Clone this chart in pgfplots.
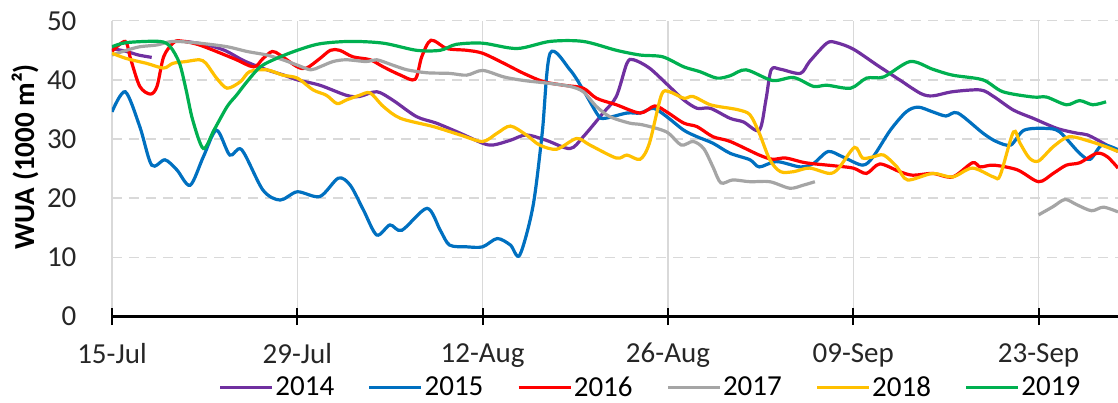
\documentclass[border=0pt]{standalone}
\usepackage{fontspec}
\setmainfont{Carlito}
\usepackage{pgfplots}
\pgfplotsset{compat=1.18}
\definecolor{cA}{HTML}{7030A0}
\definecolor{cB}{HTML}{0070C0}
\definecolor{cC}{HTML}{FF0000}
\definecolor{cD}{HTML}{A5A5A5}
\definecolor{cE}{HTML}{FFC000}
\definecolor{cF}{HTML}{00B050}
\definecolor{gridc}{HTML}{D9D9D9}
\begin{document}
\begin{tikzpicture}
\begin{axis}[name=ax,
  width=503pt, height=148pt, scale only axis,
  xmin=0, xmax=76, ymin=0, ymax=50,
  axis x line*=bottom, axis y line*=left,
  y axis line style={draw=none},
  x axis line style={line width=1.2pt, black},
  xtick={0,14,28,42,56,70},
  xticklabels={15-Jul,29-Jul,12-Aug,26-Aug,09-Sep,23-Sep},
  ytick={0,10,20,30,40,50},
  ytick style={draw=none},
  xtick style={black, line width=1pt},
  major tick length=8.5pt, tick align=center,
  xmajorgrids, ymajorgrids,
  x grid style={gridc, line width=0.6pt},
  y grid style={gridc, line width=0.8pt, dash pattern=on 5pt off 3.5pt},
  tick label style={font=\fontsize{14.5}{17}\selectfont, text=black!85},
  xticklabel style={yshift=-5.5pt},
  yticklabel style={xshift=-10pt},
  /pgf/number format/assume math mode=true,
  ylabel={WUA (1000 m²)},
  ylabel style={at={(axis description cs:-0.0865,0.54)}, anchor=center, font=\fontsize{14.5}{17}\selectfont\bfseries},
  legend columns=6,
  legend style={at={(0.535,-0.240)}, anchor=center, draw=none, fill=none,
    font=\fontsize{14.5}{17}\selectfont,
    nodes={inner sep=0.8pt},
    /tikz/every even column/.append style={column sep=16pt}},
  legend image code/.code={\draw (0pt,0pt) -- (26pt,0pt);},
  every axis plot/.append style={line width=1.6pt, smooth, tension=0.5},
]
% 2014
\addplot[cA, forget plot] coordinates {(0,45.3) (1.1,44.8) (2,44.2) (3.0,43.8)};
\addplot[cA] coordinates {(5.5,46.5) (7,46) (8.5,45) (10,43.2) (11.7,41.7) (13,40.8) (14,40.0) (15.7,39.1) (17.7,37.4) (18.7,37.2) (20.0,38.0) (21.2,36.6) (23.0,33.8) (24.5,32.7) (26.3,31.0) (28.0,29.3) (28.8,29.0) (30.1,29.8) (31.3,30.7) (32.8,29.8) (34.6,28.4) (35.6,30.4) (37.1,34.4) (38.1,37.2) (38.9,42.8) (39.4,43.4) (40.6,42.0) (42.1,38.9) (43.2,36.6) (44.2,35.2) (45.2,35.2) (46.7,33.5) (47.7,32.9) (48.9,31.5) (49.4,36.6) (49.8,41.7) (50.5,41.8) (52.0,41.1) (52.7,43.1) (54.0,46.2) (54.7,46.3) (56.0,45.2) (57.8,42.5) (59.5,40.0) (61.1,37.7) (62.0,37.3) (63.5,38.0) (65.6,38.3) (66.6,37.2) (68.1,34.9) (69.6,33.5) (71.4,31.8) (72.9,31.0) (73.7,30.7) (74.9,29.3) (76,27.9)};
\addlegendentry{2014}
% 2015
\addplot[cB] coordinates {(0,34.6) (1.0,38.0) (2.1,32.1) (3.0,25.6) (4.0,26.5) (4.9,24.8) (5.9,22.2) (6.9,27.0) (7.9,31.5) (8.9,27.3) (9.8,28.2) (11.4,21.4) (12.7,19.7) (14,21.1) (15.7,20.3) (17.1,23.4) (18.0,22.2) (19,18) (20.0,13.8) (21.0,15.5) (21.9,14.6) (23.8,18.3) (24.8,14.6) (25.5,12.1) (26.8,11.8) (28.0,11.8) (29.1,13.2) (30.1,12.1) (30.8,10.4) (31.8,18.6) (32.5,31.0) (33.1,44.5) (34.6,41.7) (35.6,38.3) (36.7,34.1) (37.2,33.5) (38.9,34.4) (39.9,34.4) (40.9,35.2) (41.9,33.8) (43.2,31.5) (44.2,30.4) (45.4,29.3) (46.7,27.6) (48.2,26.5) (48.9,25.3) (50.2,26.2) (52.0,25.3) (53.0,25.9) (54.1,27.9) (55.2,27.0) (56.7,25.6) (57.5,27.0) (58.8,31.5) (60.0,34.6) (60.9,35.4) (62.0,34.6) (63.0,33.9) (63.9,34.4) (65.8,31.0) (66.8,29.6) (67.9,29.0) (68.9,31.5) (70.6,31.8) (71.6,31.2) (73.1,27.6) (73.9,26.6) (74.8,29.0) (76,28.2)};
\addlegendentry{2015}
% 2016
\addplot[cC] coordinates {(0,44.8) (1.0,46.5) (1.4,43.6) (2.1,38.9) (2.9,37.6) (3.4,38.9) (3.9,43.9) (4.6,46.2) (5.1,46.6) (6.6,45.9) (9.2,43.6) (10.7,42.2) (11.4,43.6) (12.1,44.8) (12.7,44.2) (14,42.2) (14.7,42.0) (15.7,43.6) (16.5,45.0) (17.2,45.0) (18.2,43.9) (19.5,43.4) (20.5,42.2) (21.8,40.8) (22.9,40.1) (23.4,43.9) (24.1,46.7) (25.3,45.3) (26.8,45.0) (28.0,44.5) (29.6,42.8) (31.1,41.1) (32.6,39.7) (34.1,39.1) (35.6,38.6) (36.6,36.9) (38.1,35.8) (39.9,34.4) (41.0,35.6) (41.9,34.6) (43.2,32.7) (44.2,32.1) (45.4,30.4) (46.7,29.6) (48.9,27.3) (49.9,26.6) (50.9,26.8) (52.4,26.0) (54.5,25.5) (56.0,25.1) (57.0,24.2) (58.0,25.8) (59.5,24.5) (60.5,23.9) (62.0,24.2) (63.5,23.6) (65.0,26.0) (65.6,25.3) (66.6,25.6) (68.4,24.8) (70.0,22.8) (71.1,24.2) (72.1,25.6) (73.1,26.0) (74.4,27.6) (75.2,27.0) (76,25.1)};
\addlegendentry{2016}
% 2017
\addplot[cD] coordinates {(0,44.2) (1.1,45.0) (2.1,45.6) (3.4,45.9) (4.6,46.5) (6.6,46.2) (8.7,45.6) (10.2,44.8) (11.7,44.2) (12.9,43.4) (14,42.5) (15.0,41.7) (15.7,42.2) (16.7,43.1) (17.7,43.4) (19.2,43.1) (20,43.4) (21.2,42.5) (22.3,41.7) (23.8,41.2) (25.5,41.1) (26.8,40.8) (28.0,41.6) (29.6,40.5) (31.1,39.9) (33.1,39.4) (34.6,38.9) (35.6,38.0) (36.6,35.5) (37.6,33.8) (39.1,32.7) (40.1,32.4) (41.9,31.2) (43.0,29.0) (43.9,29.6) (44.7,28.4) (45.4,25.3) (46.0,22.6) (46.9,23.1) (48.2,22.8) (49.7,22.8) (51.2,21.7) (52.2,22.2) (53.1,22.8)};
\addlegendentry{2017}
\addplot[cD, forget plot] coordinates {(70.0,17.2) (71.1,18.6) (72.0,19.8) (72.9,18.9) (74.0,17.9) (74.9,18.5) (76,17.7)};
% 2018
\addplot[cE] coordinates {(0,44.5) (1.1,43.6) (2.6,42.8) (3.9,42.0) (4.6,42.8) (5.6,43.1) (6.6,43.4) (7.1,42.8) (7.9,40.3) (8.7,38.6) (9.7,39.7) (10.4,41.4) (11.7,41.7) (12.9,40.8) (14.0,40.3) (15.2,38.3) (16.2,37.4) (17.0,36.0) (17.7,36.6) (18.7,37.4) (19.5,37.8) (20.5,35.5) (21.8,33.5) (24.3,32.1) (26.3,30.7) (28.0,29.6) (29.1,31.0) (30.1,32.2) (31.3,30.7) (32.3,29.0) (33.6,28.3) (35.1,30.1) (36.1,29.0) (38.1,26.8) (38.9,27.3) (39.9,26.6) (40.6,29.3) (41.5,37.4) (42.1,38.0) (43.2,36.9) (43.9,37.2) (45.2,35.8) (46.7,35.2) (47.4,34.9) (48.2,34.1) (48.9,31.0) (49.7,26.5) (50.5,24.5) (51.5,24.5) (52.7,25.1) (54.2,24.2) (54.9,25.1) (56.1,28.6) (56.7,26.8) (57.5,27.0) (58.3,27.3) (59.3,25.3) (60.1,23.1) (62.0,24.2) (63.5,23.6) (65.0,25.1) (66.6,23.6) (67.1,23.9) (68.1,31.2) (68.6,29.3) (69.3,26.8) (70.0,26.3) (71.1,28.7) (72.3,30.4) (73.9,29.6) (75.1,28.7) (76,27.9)};
\addlegendentry{2018}
% 2019
\addplot[cF] coordinates {(0,45.6) (1.1,46.3) (3.6,46.5) (4.4,45.6) (5.1,42.8) (5.6,38.3) (6.1,33.2) (6.9,28.4) (7.7,31.5) (8.7,35.5) (9.4,37.4) (10.2,39.7) (11.2,42.2) (12.4,43.6) (14.0,45.0) (15.7,46.1) (18.0,46.5) (20.5,46.2) (23.0,45.0) (24.8,45.0) (26.0,46.0) (28.0,46.2) (30.6,45.3) (33.1,46.5) (35.6,46.5) (38.1,45.0) (39.9,44.2) (41.6,43.9) (43.2,42.2) (44.4,41.4) (45.7,40.3) (46.7,40.7) (47.9,41.7) (49.9,39.9) (51.5,40.4) (53.0,38.9) (54.0,39.1) (55.8,38.6) (57.0,40.3) (58.3,40.5) (60.3,43.1) (62.0,41.8) (63.5,40.8) (65.8,40.0) (67.3,38.0) (69.6,37.1) (70.6,37.1) (72.1,35.8) (73.1,36.5) (74.1,35.8) (75.1,36.3)};
\addlegendentry{2019}
\end{axis}
\pgfresetboundingbox
\path ([shift={(-56pt,-43pt)}]ax.south west) rectangle ([shift={(0pt,10.35pt)}]ax.north east);
\end{tikzpicture}
\end{document}
